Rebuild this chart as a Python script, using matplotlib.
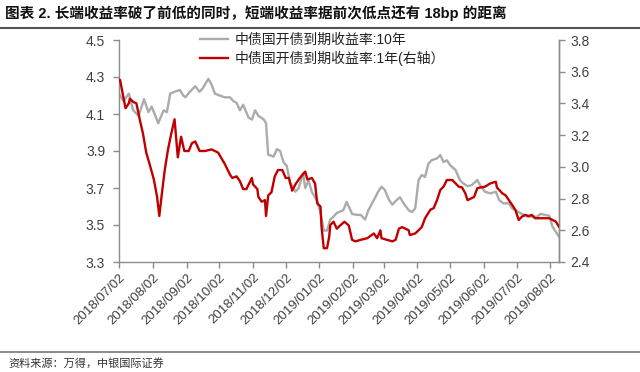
import matplotlib
matplotlib.use("Agg")
import matplotlib.pyplot as plt
import matplotlib.dates as mdates
import pandas as pd
from matplotlib.lines import Line2D

plt.rcParams['font.family'] = ['Liberation Sans', 'Noto Sans CJK SC']

# 中债国开债到期收益率:10年 (left axis)
dates_10y = ['2018-07-02', '2018-07-06', '2018-07-11', '2018-07-15', '2018-07-20', '2018-07-25',
             '2018-07-29', '2018-08-01', '2018-08-07', '2018-08-12', '2018-08-15', '2018-08-18',
             '2018-08-22', '2018-08-27', '2018-08-30', '2018-09-01', '2018-09-05', '2018-09-10',
             '2018-09-14', '2018-09-17', '2018-09-22', '2018-09-25', '2018-09-28', '2018-10-07',
             '2018-10-12', '2018-10-15', '2018-10-18', '2018-10-21', '2018-10-24', '2018-10-29',
             '2018-11-01', '2018-11-04', '2018-11-07', '2018-11-12', '2018-11-14', '2018-11-16',
             '2018-11-21', '2018-11-24', '2018-11-27', '2018-11-30', '2018-12-03', '2018-12-06',
             '2018-12-11', '2018-12-14', '2018-12-18', '2018-12-20', '2018-12-23', '2018-12-26',
             '2018-12-31', '2019-01-03', '2019-01-06', '2019-01-09', '2019-01-12', '2019-01-15',
             '2019-01-18', '2019-01-24', '2019-01-27', '2019-01-29', '2019-02-01', '2019-02-05',
             '2019-02-09', '2019-02-13', '2019-02-16', '2019-02-21', '2019-02-25', '2019-02-28',
             '2019-03-03', '2019-03-07', '2019-03-10', '2019-03-13', '2019-03-17', '2019-03-20',
             '2019-03-25', '2019-03-28', '2019-03-31', '2019-04-03', '2019-04-06', '2019-04-09',
             '2019-04-12', '2019-04-15', '2019-04-20', '2019-04-23', '2019-04-26', '2019-04-29',
             '2019-05-02', '2019-05-07', '2019-05-11', '2019-05-14', '2019-05-18', '2019-05-22',
             '2019-05-27', '2019-05-30', '2019-06-03', '2019-06-08', '2019-06-13', '2019-06-16',
             '2019-06-20', '2019-06-25', '2019-06-28', '2019-07-03', '2019-07-06', '2019-07-12',
             '2019-07-16', '2019-07-21', '2019-07-24', '2019-07-29', '2019-08-01', '2019-08-04',
             '2019-08-07', '2019-08-10']
yld_10y = [4.21, 4.17, 4.21, 4.12, 4.09, 4.18,
           4.11, 4.14, 4.05, 4.12, 4.11, 4.21,
           4.22, 4.23, 4.20, 4.19, 4.22, 4.25,
           4.22, 4.24, 4.29, 4.26, 4.21, 4.19,
           4.19, 4.17, 4.16, 4.12, 4.15, 4.08,
           4.07, 4.12, 4.09, 4.07, 4.05, 3.88,
           3.87, 3.91, 3.90, 3.84, 3.82, 3.73,
           3.68, 3.70, 3.78, 3.70, 3.74, 3.68,
           3.63, 3.565, 3.47, 3.47, 3.53, 3.545,
           3.565, 3.58, 3.625, 3.60, 3.56, 3.555,
           3.554, 3.53, 3.58, 3.635, 3.68, 3.707,
           3.69, 3.635, 3.61, 3.63, 3.65, 3.62,
           3.58, 3.57, 3.59, 3.743, 3.77, 3.76,
           3.83, 3.85, 3.86, 3.878, 3.84, 3.85,
           3.824, 3.797, 3.743, 3.725, 3.71, 3.716,
           3.743, 3.71, 3.68, 3.671, 3.68, 3.635,
           3.617, 3.617, 3.59, 3.572, 3.563, 3.545,
           3.545, 3.545, 3.56, 3.554, 3.55, 3.491,
           3.464, 3.437]

# 中债国开债到期收益率:1年 (right axis)
dates_1y = ['2018-07-02', '2018-07-03', '2018-07-06', '2018-07-08', '2018-07-11', '2018-07-12',
            '2018-07-15', '2018-07-18', '2018-07-21', '2018-07-24', '2018-07-27', '2018-07-30',
            '2018-08-03', '2018-08-06', '2018-08-08', '2018-08-10', '2018-08-13', '2018-08-16',
            '2018-08-19', '2018-08-22', '2018-08-25', '2018-08-28', '2018-08-31', '2018-09-04',
            '2018-09-07', '2018-09-10', '2018-09-14', '2018-09-19', '2018-09-25', '2018-10-01',
            '2018-10-07', '2018-10-12', '2018-10-14', '2018-10-18', '2018-10-21', '2018-10-24',
            '2018-10-27', '2018-11-01', '2018-11-02', '2018-11-06', '2018-11-07', '2018-11-10',
            '2018-11-13', '2018-11-14', '2018-11-16', '2018-11-19', '2018-11-22', '2018-11-25',
            '2018-11-29', '2018-12-02', '2018-12-05', '2018-12-08', '2018-12-11', '2018-12-15',
            '2018-12-20', '2018-12-22', '2018-12-26', '2018-12-29', '2018-12-31', '2019-01-03',
            '2019-01-04', '2019-01-06', '2019-01-09', '2019-01-11', '2019-01-12', '2019-01-15',
            '2019-01-18', '2019-01-21', '2019-01-25', '2019-01-29', '2019-02-01', '2019-02-04',
            '2019-02-09', '2019-02-15', '2019-02-21', '2019-02-24', '2019-02-27', '2019-02-28',
            '2019-03-05', '2019-03-10', '2019-03-13', '2019-03-16', '2019-03-19', '2019-03-22',
            '2019-03-25', '2019-03-26', '2019-03-31', '2019-04-03', '2019-04-06', '2019-04-09',
            '2019-04-14', '2019-04-17', '2019-04-20', '2019-04-23', '2019-04-26', '2019-04-29',
            '2019-05-04', '2019-05-07', '2019-05-10', '2019-05-13', '2019-05-16', '2019-05-18',
            '2019-05-21', '2019-05-24', '2019-05-27', '2019-05-30', '2019-06-03', '2019-06-08',
            '2019-06-13', '2019-06-14', '2019-06-19', '2019-06-22', '2019-06-25', '2019-06-28',
            '2019-07-01', '2019-07-04', '2019-07-07', '2019-07-10', '2019-07-13', '2019-07-16',
            '2019-07-19', '2019-07-24', '2019-07-29', '2019-08-01', '2019-08-04', '2019-08-07',
            '2019-08-10']
yld_1y = [3.55, 3.548, 3.44, 3.37, 3.40, 3.43,
          3.41, 3.40, 3.30, 3.21, 3.09, 3.02,
          2.92, 2.81, 2.69, 2.81, 2.98, 3.11,
          3.21, 3.30, 3.06, 3.19, 3.10, 3.10,
          3.15, 3.16, 3.10, 3.10, 3.11, 3.09,
          3.02, 2.95, 2.93, 2.94, 2.91, 2.86,
          2.86, 2.93, 2.89, 2.86, 2.81, 2.78,
          2.79, 2.69, 2.82, 2.84, 2.94, 2.98,
          2.98, 2.93, 2.93, 2.85, 2.89, 2.93,
          2.97, 2.92, 2.93, 2.896, 2.77, 2.75,
          2.62, 2.487, 2.487, 2.56, 2.633, 2.654,
          2.61, 2.63, 2.654, 2.63, 2.54, 2.53,
          2.54, 2.55, 2.58, 2.55, 2.60, 2.55,
          2.54, 2.53, 2.54, 2.61, 2.62, 2.61,
          2.60, 2.57, 2.58, 2.60, 2.62, 2.676,
          2.73, 2.74, 2.79, 2.854, 2.875, 2.917,
          2.917, 2.896, 2.875, 2.87, 2.833, 2.79,
          2.80, 2.81, 2.865, 2.87, 2.875, 2.896,
          2.906, 2.87, 2.833, 2.82, 2.79, 2.76,
          2.728, 2.665, 2.686, 2.697, 2.69, 2.697,
          2.676, 2.676, 2.676, 2.676, 2.665, 2.655,
          2.623]

tick_dates = ['2018-07-02', '2018-08-02', '2018-09-02', '2018-10-02', '2018-11-02', '2018-12-02',
              '2019-01-02', '2019-02-02', '2019-03-02', '2019-04-02', '2019-05-02', '2019-06-02',
              '2019-07-02', '2019-08-02']
left_ticks = [3.3, 3.5, 3.7, 3.9, 4.1, 4.3, 4.5]
right_ticks = [2.4, 2.6, 2.8, 3.0, 3.2, 3.4, 3.6, 3.8]

title = '图表 2. 长端收益率破了前低的同时，短端收益率据前次低点还有 18bp 的距离'
label_10y = '中债国开债到期收益率:10年'
label_1y = '中债国开债到期收益率:1年(右轴）'
source = '资料来源：万得，中银国际证券'

gray = '#ABABAB'
red = '#C00000'
axis_col = '#8C8C8C'
text_col = '#404040'

fig = plt.figure(figsize=(6.4, 3.72), dpi=100)
ax = fig.add_axes([119 / 640, 1 - 262 / 372, 440 / 640, 222 / 372])
ax2 = ax.twinx()

x10 = pd.to_datetime(dates_10y)
x1 = pd.to_datetime(dates_1y)
ax.plot(x10, yld_10y, color=gray, lw=1.7, zorder=2)
ax2.plot(x1, yld_1y, color=red, lw=1.7, zorder=3)

ax.set_xlim(pd.Timestamp('2018-07-02'), pd.Timestamp('2019-08-10'))
ax.set_ylim(3.3, 4.5)
ax2.set_ylim(2.4, 3.8)
ax.set_yticks(left_ticks)
ax.set_yticklabels([f'{v:.1f}' for v in left_ticks])
ax2.set_yticks(right_ticks)
ax2.set_yticklabels([f'{v:.1f}' for v in right_ticks])

ax.set_xticks(pd.to_datetime(tick_dates))
ax.xaxis.set_major_formatter(mdates.DateFormatter('%Y/%m/%d'))
for lab in ax.get_xticklabels():
    lab.set_rotation(45)
    lab.set_ha('right')
    lab.set_rotation_mode('anchor')

for a in (ax, ax2):
    a.spines['top'].set_visible(False)
    for s in ('left', 'right', 'bottom'):
        a.spines[s].set_color(axis_col)
        a.spines[s].set_linewidth(1.0)
    a.tick_params(colors=axis_col, labelcolor=text_col, labelsize=10, length=4, width=1)
ax.tick_params(axis='y', pad=6)
ax2.tick_params(axis='y', pad=4)
ax.tick_params(axis='x', labelsize=9.5, pad=3)
ax2.spines['left'].set_visible(False)
ax2.spines['bottom'].set_visible(False)

handles = [Line2D([], [], color=gray, lw=1.7), Line2D([], [], color=red, lw=1.7)]
fig.legend(handles, [label_10y, label_1y], loc='upper left',
           bbox_to_anchor=(200 / 640, 1 - 33 / 372), bbox_transform=fig.transFigure,
           frameon=False, fontsize=10, handlelength=2.0, handletextpad=0.5,
           labelspacing=0.25, borderpad=0, borderaxespad=0, labelcolor='#222222')

fig.text(5 / 640, 1 - 13 / 372, title, fontsize=10.5, fontweight='bold', color='#111111',
         va='center', ha='left')
fig.add_artist(Line2D([0, 1], [1 - 28 / 372, 1 - 28 / 372], transform=fig.transFigure,
                      color='#555555', lw=1.5))
fig.add_artist(Line2D([0, 1], [1 - 352 / 372, 1 - 352 / 372], transform=fig.transFigure,
                      color='#777777', lw=1.2))
fig.text(8 / 640, 1 - 363 / 372, source, fontsize=8, color='#333333', va='center',
         ha='left', style='italic')

fig.savefig('out.png', dpi=100)
